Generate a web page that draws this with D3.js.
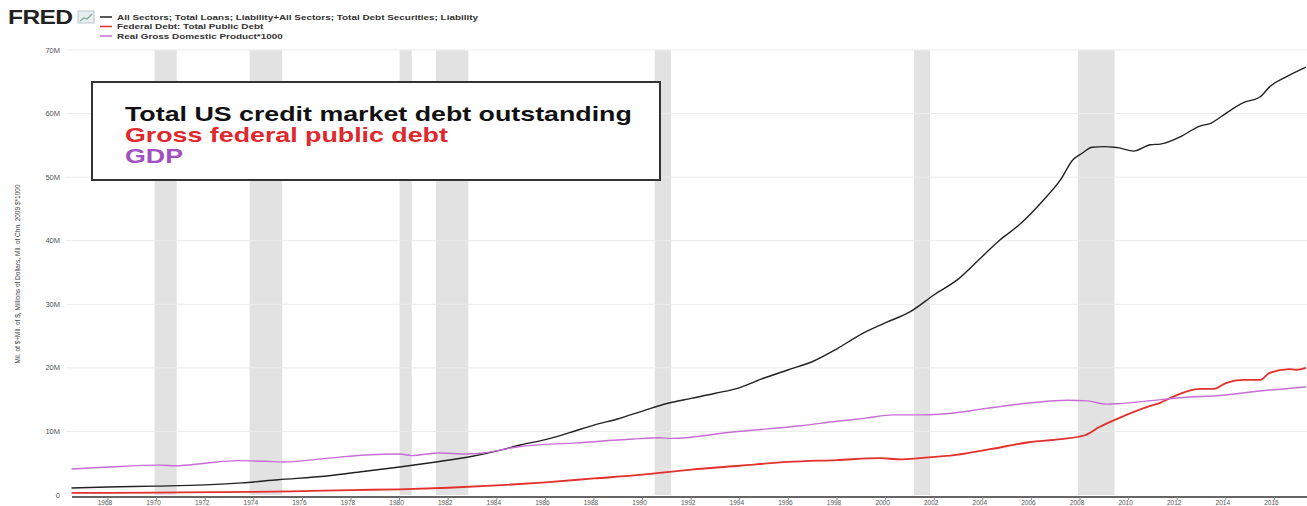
<!DOCTYPE html>
<html>
<head>
<meta charset="utf-8">
<script src="https://cdn.jsdelivr.net/npm/d3@7"></script>
<style>
  body { margin: 0; background: #fff; }
  svg { display: block; font-family: "Liberation Sans", Arial, sans-serif; }
</style>
</head>
<body>
<div id="chart"></div>
<script>
// values in millions of millions ("M" on the axis), decimal years
var creditYears = [1966.5, 1968, 1970, 1972, 1973.5, 1975, 1977, 1978.5, 1980, 1981.5, 1983, 1984.2, 1985, 1986,
  1987, 1988, 1989, 1990, 1991, 1992, 1993, 1994, 1995, 1996, 1997, 1998, 1999, 2000, 2001, 2002, 2003, 2004,
  2004.7, 2005.5, 2006.5, 2007.2, 2007.7, 2008.1, 2008.5, 2009.0, 2009.4, 2009.6, 2010.2, 2010.9, 2011.3,
  2012.2, 2012.9, 2013.4, 2013.8, 2014.7, 2015.4, 2015.8, 2016.5, 2017.3];
var creditDebt = [1.1, 1.25, 1.4, 1.6, 1.9, 2.4, 3.0, 3.7, 4.4, 5.2, 6.1, 7.1, 7.9, 8.7,
  9.8, 11.0, 12.0, 13.2, 14.4, 15.2, 16.0, 16.9, 18.4, 19.7, 21.0, 23.0, 25.3, 27.1, 28.8, 31.5, 34.0, 37.6,
  40.1, 42.5, 46.4, 49.6, 52.7, 53.8, 54.7, 54.8, 54.7, 54.6, 54.1, 55.1, 55.2,
  56.5, 58.0, 58.5, 59.5, 61.7, 62.6, 64.2, 65.8, 67.3];

var fedYears = [1966.5, 1970, 1974, 1976, 1978, 1980, 1982, 1984, 1986, 1988, 1990, 1992, 1994, 1996, 1998,
  1999.8, 2000.6, 2001.4, 2002.9, 2004.3, 2005.9, 2007.2, 2008.2, 2008.8, 2009.6, 2010.8, 2011.3, 2011.8,
  2012.9, 2013.5, 2014.0, 2014.7, 2015.4, 2015.8, 2016.6, 2016.9, 2017.3];
var fedDebt = [0.32, 0.38, 0.48, 0.62, 0.78, 0.9, 1.14, 1.5, 2.0, 2.6, 3.2, 4.0, 4.6, 5.2, 5.5,
  5.8, 5.6, 5.8, 6.3, 7.2, 8.3, 8.8, 9.4, 10.7, 12.1, 13.9, 14.5, 15.4,
  16.7, 16.7, 17.6, 18.1, 18.1, 19.2, 19.8, 19.7, 20.0];

var gdpYears = [1966.5, 1968, 1970.1, 1970.8, 1972, 1973.3, 1974.5, 1975.2, 1977.1, 1978.6, 1980.0, 1980.5,
  1981.6, 1982.7, 1983.4, 1984.9, 1987.3, 1989.6, 1990.7, 1991.2, 1993.7, 1996.5, 1998, 1999.2, 2000.3, 2001.4,
  2003.2, 2003.9, 2006.0, 2007.5, 2008.3, 2009.1, 2009.5, 2010.8, 2012.1, 2013.9, 2015.5, 2017.3];
var gdp = [4.1, 4.4, 4.7, 4.6, 5.0, 5.4, 5.3, 5.2, 5.8, 6.3, 6.45, 6.2,
  6.6, 6.45, 6.6, 7.6, 8.2, 8.8, 9.0, 8.9, 9.9, 10.9, 11.6, 12.1, 12.6, 12.6,
  13.1, 13.5, 14.5, 14.9, 14.8, 14.3, 14.35, 14.8, 15.3, 15.7, 16.4, 17.0];

var recessionStart = [1969.92, 1973.83, 1980.0, 1981.5, 1990.5, 2001.17, 2007.92];
var recessionEnd = [1970.83, 1975.17, 1980.5, 1982.83, 1991.17, 2001.83, 2009.42];

var yTicks = [0, 10, 20, 30, 40, 50, 60, 70];
var xTicks = d3.range(1968, 2017, 2);

var legendLabels = [
  'All Sectors; Total Loans; Liability+All Sectors; Total Debt Securities; Liability',
  'Federal Debt: Total Public Debt',
  'Real Gross Domestic Product*1000'
];
var noteLabels = ['Total US credit market debt outstanding', 'Gross federal public debt', 'GDP'];
var colors = ['#222222', '#e3302c', '#c76ed6'];
var noteColors = ['#111111', '#e0282e', '#a150c0'];

var width = 1307, height = 506;

var svg = d3.select('#chart').append('svg')
  .attr('width', width)
  .attr('height', height);

var x = d3.scaleLinear().domain([1966.52, 2017.34]).range([72, 1307]);
var y = d3.scaleLinear().domain([0, 70]).range([495, 50]);

function zip(xs, vs) {
  return xs.map(function(t, i) { return {t: t, v: vs[i]}; });
}
var series = [zip(creditYears, creditDebt), zip(fedYears, fedDebt), zip(gdpYears, gdp)];

// recession shading
svg.append('g').selectAll('rect').data(recessionStart)
  .enter().append('rect')
  .attr('x', function(d) { return x(d); })
  .attr('width', function(d, i) { return x(recessionEnd[i]) - x(d); })
  .attr('y', y(70))
  .attr('height', y(0) - y(70))
  .attr('fill', '#e2e2e2');

// gridlines + y labels
var yAxis = svg.append('g');
yAxis.selectAll('line').data(yTicks.slice(1))
  .enter().append('line')
  .attr('x1', 66).attr('x2', width)
  .attr('y1', function(d) { return y(d); })
  .attr('y2', function(d) { return y(d); })
  .attr('stroke', '#ebebeb')
  .attr('stroke-width', 1);
yAxis.selectAll('text').data(yTicks)
  .enter().append('text')
  .attr('x', 60)
  .attr('y', function(d) { return y(d) + 2.5; })
  .attr('text-anchor', 'end')
  .attr('font-size', 7.5)
  .attr('fill', '#555')
  .text(function(d) { return d === 0 ? '0' : d + 'M'; });

svg.append('text')
  .attr('transform', 'translate(20,274) rotate(-90)')
  .attr('text-anchor', 'middle')
  .attr('font-size', 6.5)
  .attr('fill', '#444')
  .text('Mil. of $+Mil. of $, Millions of Dollars, Mil. of Chn. 2009 $*1000');

// x axis, labels squeezed in above the bottom edge
var xAxis = svg.append('g');
xAxis.append('line')
  .attr('x1', 72).attr('x2', width)
  .attr('y1', 497).attr('y2', 497)
  .attr('stroke', '#666')
  .attr('stroke-width', 2);
xAxis.selectAll('line.tick').data(xTicks)
  .enter().append('line')
  .attr('class', 'tick')
  .attr('x1', function(d) { return x(d); })
  .attr('x2', function(d) { return x(d); })
  .attr('y1', 497).attr('y2', 500)
  .attr('stroke', '#888');
xAxis.selectAll('text').data(xTicks)
  .enter().append('text')
  .attr('x', function(d) { return x(d) - 3; })
  .attr('y', 505)
  .attr('text-anchor', 'middle')
  .attr('font-size', 6.5)
  .attr('fill', '#555')
  .text(function(d) { return d; });

// series lines
var line = d3.line()
  .x(function(d) { return x(d.t); })
  .y(function(d) { return y(d.v); })
  .curve(d3.curveMonotoneX);

svg.append('g').selectAll('path').data(series)
  .enter().append('path')
  .attr('d', line)
  .attr('fill', 'none')
  .attr('stroke', function(d, i) { return colors[i]; })
  .attr('stroke-width', function(d, i) { return i === 1 ? 1.8 : 1.4; });

// annotation box
svg.append('rect')
  .attr('x', 92).attr('y', 82)
  .attr('width', 568).attr('height', 98)
  .attr('fill', '#fff')
  .attr('stroke', '#333')
  .attr('stroke-width', 2);

// the source image is stretched sideways, so the text is too
svg.append('g')
  .attr('transform', 'translate(125,0) scale(1.34,1)')
  .selectAll('text').data(noteLabels)
  .enter().append('text')
  .attr('x', 0)
  .attr('y', function(d, i) { return 121 + i * 21; })
  .attr('font-size', 20)
  .attr('font-weight', 'bold')
  .attr('fill', function(d, i) { return noteColors[i]; })
  .text(function(d) { return d; });

// FRED header
svg.append('text')
  .attr('transform', 'translate(8,24) scale(1.17,1)')
  .attr('font-size', 21)
  .attr('font-weight', 900)
  .attr('fill', '#222')
  .attr('letter-spacing', -0.5)
  .text('FRED');

var icon = svg.append('g').attr('transform', 'translate(78,11)');
icon.append('rect')
  .attr('width', 16).attr('height', 12)
  .attr('fill', '#e8eef0')
  .attr('stroke', '#b8c8cc');
icon.append('polyline')
  .attr('points', '2,10 6,7 9,8 14,3')
  .attr('fill', 'none')
  .attr('stroke', '#7aa890')
  .attr('stroke-width', 1.2);

var legend = svg.append('g').selectAll('g').data(legendLabels)
  .enter().append('g')
  .attr('transform', function(d, i) { return 'translate(100,' + (17 + i * 9.5) + ')'; });
legend.append('line')
  .attr('x1', 0).attr('x2', 12)
  .attr('stroke', function(d, i) { return colors[i]; })
  .attr('stroke-width', 1.5);
legend.append('text')
  .attr('transform', 'translate(17,2.8) scale(1.24,1)')
  .attr('font-size', 8)
  .attr('font-weight', 600)
  .attr('fill', '#333')
  .text(function(d) { return d; });
</script>
</body>
</html>
